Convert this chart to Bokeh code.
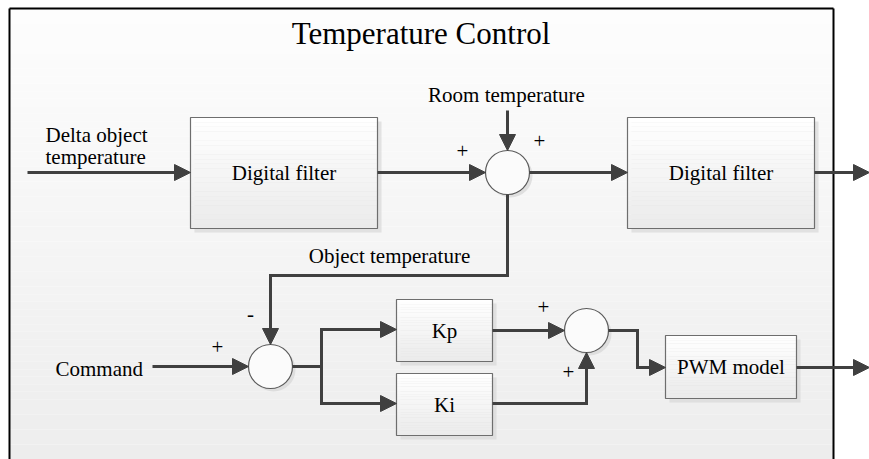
from bokeh.plotting import figure
from bokeh.models import Range1d
from bokeh.core.properties import value
from bokeh.embed import file_html
from bokeh.resources import INLINE

# ---- diagram content (image pixel coordinates, y grows downward) ----
title_text = "Temperature Control"
title_x, title_y = 420.5, 33

frame_left, frame_right, frame_top, frame_bottom = 9, 833, 8, 470

box_labels = ["Digital filter", "Digital filter", "Kp", "Ki", "PWM model"]
box_left = [190, 627, 396, 396, 665]
box_right = [377, 814, 492, 492, 796]
box_top = [117, 117, 299, 373, 335]
box_bottom = [228, 228, 361, 435, 398]

sum_x = [507, 270, 586]
sum_y = [172, 366, 330]
sum_r = [22, 22, 22]

sign_text = ["+", "+", "-", "+", "+", "+"]
sign_x = [462, 539, 250, 217, 543, 568]
sign_y = [150, 140, 313, 346, 306, 371]

label_text = ["Room temperature", "Delta object", "temperature", "Object temperature", "Command"]
label_x = [506, 45, 45, 389, 55]
label_y = [94, 134, 156, 255, 368]
label_align = ["center", "left", "left", "center", "left"]

# signal paths, each ends in an arrowhead
paths_x = [
    [27, 190],
    [377, 485],
    [507, 507],
    [529, 627],
    [814, 869],
    [507, 507, 270, 270],
    [152, 248],
    [292, 321, 321, 396],
    [321, 321, 396],
    [492, 564],
    [492, 586, 586],
    [608, 637, 637, 665],
    [796, 869],
]
paths_y = [
    [172, 172],
    [172, 172],
    [110, 150],
    [172, 172],
    [172, 172],
    [194, 275, 275, 344],
    [366, 366],
    [366, 366, 329, 329],
    [366, 403, 403],
    [330, 330],
    [403, 403, 352],
    [330, 330, 367, 367],
    [367, 367],
]

# ---- styling ----
FONT = value("Liberation Serif")
LINE = "#404040"
HEAD_LEN, HEAD_HALF = 16, 8


def lerp_color(c1, c2, t):
    a = [int(c1[i:i + 2], 16) for i in (1, 3, 5)]
    b = [int(c2[i:i + 2], 16) for i in (1, 3, 5)]
    return "#%02x%02x%02x" % tuple(int(round(a[k] + (b[k] - a[k]) * t)) for k in range(3))


W, H = 869, 459
p = figure(width=W, height=H, output_backend="svg", toolbar_location=None,
           x_range=Range1d(0, W), y_range=Range1d(H, 0),
           min_border=0, outline_line_color=None, background_fill_color="white",
           border_fill_color="white")
p.axis.visible = False
p.grid.visible = False

# frame background gradient
n = 60
ys = [frame_top + (H - frame_top) * i / n for i in range(n + 1)]
p.quad(left=[frame_left] * n, right=[frame_right] * n, top=ys[:-1], bottom=ys[1:],
       fill_color=[lerp_color("#fdfdfd", "#ededed", i / (n - 1)) for i in range(n)],
       line_color=None)
p.multi_line(xs=[[frame_left, frame_left], [frame_left, frame_right], [frame_right, frame_right]],
             ys=[[frame_bottom, frame_top], [frame_top, frame_top], [frame_top, frame_bottom]],
             line_color="black", line_width=2)

# boxes: shadow, gradient, border
p.quad(left=[l + 4 for l in box_left], right=[r + 4 for r in box_right],
       top=[t + 4 for t in box_top], bottom=[b + 4 for b in box_bottom],
       fill_color="#d9d9d9", fill_alpha=0.7, line_color=None)
for l, r, t, b in zip(box_left, box_right, box_top, box_bottom):
    m = 24
    yy = [t + (b - t) * i / m for i in range(m + 1)]
    p.quad(left=[l] * m, right=[r] * m, top=yy[:-1], bottom=yy[1:],
           fill_color=[lerp_color("#ffffff", "#ebebeb", i / (m - 1)) for i in range(m)],
           line_color=None)
p.quad(left=box_left, right=box_right, top=box_top, bottom=box_bottom,
       fill_color=None, line_color="#6e6e6e", line_width=1.2)

# summing junctions
p.circle(x=[x + 3 for x in sum_x], y=[y + 3 for y in sum_y], radius=sum_r,
         fill_color="#d6d6d6", fill_alpha=0.7, line_color=None)
p.circle(x=sum_x, y=sum_y, radius=sum_r, fill_color="#fbfbfb",
         line_color="#5a5a5a", line_width=1.2)

# signal lines and arrowheads
shaft_x, shaft_y, hx, hy = [], [], [], []
for xs_, ys_ in zip(paths_x, paths_y):
    x1, y1, x2, y2 = xs_[-2], ys_[-2], xs_[-1], ys_[-1]
    length = ((x2 - x1) ** 2 + (y2 - y1) ** 2) ** 0.5
    dx, dy = (x2 - x1) / length, (y2 - y1) / length
    bx, by = x2 - dx * (HEAD_LEN - 2), y2 - dy * (HEAD_LEN - 2)
    shaft_x.append(list(xs_[:-1]) + [bx])
    shaft_y.append(list(ys_[:-1]) + [by])
    cx, cy = x2 - dx * HEAD_LEN, y2 - dy * HEAD_LEN
    hx.append([x2, cx - dy * HEAD_HALF, cx + dy * HEAD_HALF])
    hy.append([y2, cy + dx * HEAD_HALF, cy - dx * HEAD_HALF])
p.multi_line(xs=shaft_x, ys=shaft_y, line_color=LINE, line_width=3, line_join="miter")
p.patches(xs=hx, ys=hy, fill_color=LINE, line_color=LINE, line_width=1)

# texts
p.text(x=[title_x], y=[title_y], text=[title_text], text_font=FONT, text_font_size="31px",
       text_align="center", text_baseline="alphabetic", text_color="black")
p.text(x=[(l + r) / 2 for l, r in zip(box_left, box_right)],
       y=[(t + b) / 2 for t, b in zip(box_top, box_bottom)],
       text=box_labels, text_font=FONT, text_font_size="21px",
       text_align="center", text_baseline="alphabetic", text_color="black")
for a in ("center", "left"):
    idx = [i for i, al in enumerate(label_align) if al == a]
    p.text(x=[label_x[i] for i in idx], y=[label_y[i] for i in idx],
           text=[label_text[i] for i in idx], text_font=FONT, text_font_size="21px",
           text_align=a, text_baseline="alphabetic", text_color="black")
p.text(x=sign_x, y=sign_y, text=sign_text, text_font=FONT, text_font_size="21px",
       text_align="center", text_baseline="alphabetic", text_color="black")

open("out.html", "w").write(file_html(p, INLINE))
